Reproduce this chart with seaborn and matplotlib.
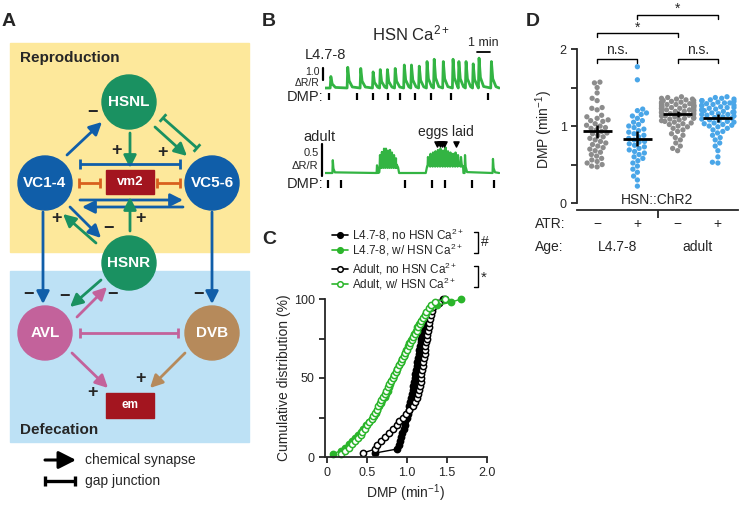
import numpy as np
import pandas as pd
import matplotlib
matplotlib.use("Agg")
import matplotlib.pyplot as plt
import seaborn as sns
from matplotlib.patches import Circle, Rectangle, FancyArrowPatch
from matplotlib.transforms import blended_transform_factory

# ---------------- data ----------------
# panel B: HSN Ca2+ traces, time in min, amplitude in dR/R
l4_spike_t = [0.45, 1.75, 2.75, 3.7, 4.25, 4.8, 5.4, 6.1, 6.65, 7.25, 7.85, 8.4, 9.1, 9.85, 10.3, 10.85, 11.4, 11.85, 12.8]
l4_spike_h = [1.0, 1.8, 1.7, 1.4, 1.6, 1.6, 1.7, 2.0, 2.0, 1.9, 2.3, 2.5, 2.3, 2.5, 2.3, 2.3, 2.1, 2.6, 2.3]
l4_base_t = [0.0, 13.4]
l4_base_v = [0.0, 0.0]
l4_dmp_t = [0.3, 2.45, 3.7, 4.85, 5.75, 6.9, 8.15, 9.7, 12.55]

ad_spike_t = [0.6, 4.0, 4.23, 4.38, 4.54, 4.69, 4.85, 5.0, 5.15, 5.31, 5.46,
              7.92, 8.12, 8.31, 8.5, 8.69, 8.88, 9.08, 9.27, 9.46, 9.65, 9.85, 10.04, 10.23, 10.46,
              10.77, 12.92]
ad_spike_h = [0.2, 0.12, 0.2, 0.25, 0.3, 0.3, 0.27, 0.28, 0.24, 0.2, 0.15,
              0.15, 0.2, 0.22, 0.24, 0.26, 0.28, 0.25, 0.3, 0.24, 0.22, 0.2, 0.22, 0.18, 0.15,
              0.28, 0.22]
ad_base_t = [0.0, 4.05, 4.15, 5.5, 5.7, 7.75, 7.85, 10.55, 10.65, 13.4]
ad_base_v = [0.0, 0.0, 0.08, 0.08, 0.0, 0.0, 0.1, 0.1, 0.0, 0.0]
ad_dmp_t = [0.25, 1.25, 6.15, 8.25, 9.25, 11.3, 13.0]
ad_egg_t = [8.62, 8.81, 9.0, 9.19, 10.08]

# panel C: DMP values (min^-1) per animal group
cdf_l4_no = [0.60, 0.87, 0.90, 0.91, 0.93, 0.94, 0.96, 0.97, 0.98, 1.00, 1.01, 1.02, 1.03, 1.04,
             1.05, 1.06, 1.07, 1.08, 1.09, 1.10, 1.10, 1.11, 1.12, 1.13, 1.14, 1.15, 1.15, 1.16,
             1.17, 1.18, 1.19, 1.20, 1.21, 1.22, 1.24, 1.26, 1.28, 1.31, 1.38, 1.45]
cdf_ad_no = [0.45, 0.60, 0.62, 0.67, 0.72, 0.78, 0.83, 0.87, 0.90, 0.95, 0.99, 1.02, 1.07, 1.10,
             1.12, 1.14, 1.15, 1.16, 1.17, 1.18, 1.18, 1.19, 1.20, 1.20, 1.21, 1.22, 1.22, 1.23,
             1.24, 1.25, 1.25, 1.26, 1.27, 1.28, 1.29, 1.30, 1.31, 1.33, 1.40, 1.47]
cdf_l4_ca = [0.08, 0.17, 0.22, 0.27, 0.31, 0.35, 0.39, 0.42, 0.45, 0.49, 0.53, 0.56, 0.59, 0.61,
             0.63, 0.65, 0.67, 0.69, 0.72, 0.74, 0.76, 0.77, 0.79, 0.80, 0.82, 0.84, 0.86, 0.88,
             0.90, 0.92, 0.94, 0.96, 0.98, 0.99, 1.01, 1.03, 1.05, 1.07, 1.09, 1.11, 1.13, 1.15,
             1.17, 1.20, 1.23, 1.25, 1.29, 1.38, 1.55, 1.68]
cdf_ad_ca = [0.18, 0.22, 0.27, 0.31, 0.35, 0.39, 0.42, 0.44, 0.47, 0.50, 0.53, 0.56, 0.58, 0.60,
             0.62, 0.64, 0.66, 0.68, 0.70, 0.72, 0.74, 0.76, 0.78, 0.80, 0.82, 0.84, 0.86, 0.88,
             0.90, 0.92, 0.94, 0.96, 0.98, 1.00, 1.02, 1.04, 1.06, 1.08, 1.10, 1.12, 1.14, 1.16,
             1.18, 1.20, 1.22, 1.24, 1.27, 1.30, 1.35, 1.47]
cdf_labels = ["L4.7-8, no HSN Ca$^{2+}$", "L4.7-8, w/ HSN Ca$^{2+}$",
              "Adult, no HSN Ca$^{2+}$", "Adult, w/ HSN Ca$^{2+}$"]

# panel D: DMP per animal, HSN::ChR2 with / without ATR
d_l4_minus = [1.57, 1.56, 1.50, 1.43, 1.36, 1.33, 1.24, 1.23, 1.21, 1.14, 1.12, 1.10, 1.08, 1.07,
              1.06, 1.03, 1.01, 1.00, 0.98, 0.97, 0.95, 0.93, 0.91, 0.90, 0.88, 0.86, 0.84, 0.82,
              0.80, 0.78, 0.76, 0.74, 0.72, 0.70, 0.68, 0.66, 0.63, 0.61, 0.58, 0.56, 0.54, 0.52,
              0.50, 0.48, 0.47]
d_l4_plus = [1.77, 1.60, 1.22, 1.20, 1.17, 1.15, 1.13, 1.10, 1.07, 1.05, 1.02, 1.00, 0.98, 0.96,
             0.94, 0.92, 0.90, 0.88, 0.86, 0.84, 0.82, 0.80, 0.79, 0.77, 0.75, 0.73, 0.71, 0.69,
             0.67, 0.65, 0.63, 0.60, 0.58, 0.55, 0.52, 0.48, 0.44, 0.40, 0.35, 0.30, 0.22]
d_ad_minus = [1.38, 1.37, 1.36, 1.35, 1.35, 1.34, 1.33, 1.33, 1.32, 1.31, 1.31, 1.30, 1.30, 1.29,
              1.29, 1.28, 1.28, 1.27, 1.27, 1.27, 1.26, 1.26, 1.25, 1.25, 1.25, 1.24, 1.24, 1.23,
              1.23, 1.23, 1.22, 1.22, 1.21, 1.21, 1.20, 1.20, 1.19, 1.19, 1.18, 1.18, 1.17, 1.17,
              1.16, 1.15, 1.15, 1.14, 1.13, 1.13, 1.12, 1.11, 1.10, 1.10, 1.09, 1.08, 1.07, 1.06,
              1.05, 1.04, 1.03, 1.02, 1.00, 0.99, 0.97, 0.95, 0.93, 0.90, 0.88, 0.85, 0.82, 0.78,
              0.74, 0.71, 0.68]
d_ad_plus = [1.38, 1.37, 1.36, 1.35, 1.34, 1.33, 1.33, 1.32, 1.31, 1.30, 1.30, 1.29, 1.28, 1.27,
             1.27, 1.26, 1.25, 1.24, 1.24, 1.23, 1.22, 1.21, 1.21, 1.20, 1.19, 1.18, 1.18, 1.17,
             1.16, 1.15, 1.15, 1.14, 1.13, 1.12, 1.11, 1.10, 1.09, 1.08, 1.07, 1.06, 1.05, 1.04,
             1.03, 1.02, 1.01, 1.00, 0.99, 0.97, 0.95, 0.93, 0.91, 0.88, 0.85, 0.82, 0.78, 0.74,
             0.68, 0.60, 0.53, 0.52]
d_atr = ["\u2212", "+", "\u2212", "+"]
d_age = ["L4.7-8", "adult"]

# ---------------- style ----------------
sns.set_style("ticks")
plt.rcParams["font.family"] = ["Liberation Sans", "DejaVu Sans"]
plt.rcParams["mathtext.fontset"] = "custom"
plt.rcParams["mathtext.rm"] = "Liberation Sans"
plt.rcParams["mathtext.it"] = "Liberation Sans"
plt.rcParams["mathtext.bf"] = "Liberation Sans:bold"

GREEN_N = "#1a9161"
BLUE_N = "#105ea9"
PINK = "#c3629b"
BROWN = "#b68a5b"
RED = "#a3151f"
ORANGE = "#d8601e"
TRACE = "#33b443"
CGREEN = "#2bb52b"
GREY = "#8c8c8c"
LBLUE = "#4aa6e8"

W, H = 740, 507
fig = plt.figure(figsize=(W / 100, H / 100), dpi=100)


def box(l, t, r, b):
    return [l / W, 1 - b / H, (r - l) / W, (b - t) / H]


ov = fig.add_axes([0, 0, 1, 1])
ov.set_xlim(0, W)
ov.set_ylim(H, 0)
ov.axis("off")

for lab, x, y in [("A", 9, 22), ("B", 269, 22), ("C", 269, 240), ("D", 533, 22)]:
    ov.text(x, y, lab, fontsize=14, fontweight="bold", ha="center", va="center")

# ---------------- panel A: circuit diagram ----------------
ov.add_patch(Rectangle((10, 43), 239, 209, color="#fde89b", zorder=0))
ov.add_patch(Rectangle((10, 271), 239, 171, color="#bde1f5", zorder=0))
ov.text(20, 58, "Reproduction", fontsize=11, fontweight="bold", va="center")
ov.text(20, 430, "Defecation", fontsize=11, fontweight="bold", va="center")


def arrow(p0, p1, c, lw=2.0, ms=10):
    ov.add_patch(FancyArrowPatch(p0, p1, arrowstyle="-|>,head_length=0.75,head_width=0.38",
                                 mutation_scale=ms, lw=lw, color=c, shrinkA=0, shrinkB=0, zorder=2))


def gap(p0, p1, c, half=5, lw=2.0):
    p0, p1 = np.array(p0, float), np.array(p1, float)
    d = (p1 - p0) / np.linalg.norm(p1 - p0)
    n = np.array([-d[1], d[0]])
    ov.plot([p0[0], p1[0]], [p0[1], p1[1]], color=c, lw=lw, solid_capstyle="butt", zorder=2)
    for p in (p0, p1):
        ov.plot([p[0] - half * n[0], p[0] + half * n[0]], [p[1] - half * n[1], p[1] + half * n[1]],
                color=c, lw=lw, solid_capstyle="butt", zorder=2)


for p0, p1, c in [((67, 155), (102, 122), BLUE_N), ((130, 133), (130, 168), GREEN_N),
                  ((155, 127), (187, 156), GREEN_N), ((80, 200), (183, 200), BLUE_N),
                  ((183, 207), (82, 207), BLUE_N), ((130, 231), (130, 197), GREEN_N),
                  ((70, 207), (101, 238), BLUE_N), ((96, 243), (63, 214), GREEN_N),
                  ((43, 212), (43, 304), BLUE_N), ((212, 212), (212, 304), BLUE_N),
                  ((101, 280), (70, 307), GREEN_N), ((77, 317), (107, 287), PINK),
                  ((72, 353), (108, 388), PINK), ((185, 353), (150, 388), BROWN)]:
    arrow(p0, p1, c)

for p0, p1, c in [((80, 164), (180, 164), BLUE_N), ((79, 183), (100, 183), ORANGE),
                  ((157, 183), (180, 183), ORANGE), ((163, 118), (197, 148), GREEN_N),
                  ((80, 333), (178, 333), PINK)]:
    gap(p0, p1, c)

for name, x, y, c in [("HSNL", 129, 102, GREEN_N), ("VC1-4", 45, 183, BLUE_N),
                      ("VC5-6", 212, 183, BLUE_N), ("HSNR", 129, 263, GREEN_N),
                      ("AVL", 45, 333, PINK), ("DVB", 212, 333, BROWN)]:
    ov.add_patch(Circle((x, y), 27, color=c, zorder=3))
    ov.text(x, y, name, color="white", fontsize=11, fontweight="bold", ha="center", va="center", zorder=4)

ov.add_patch(Rectangle((106, 170), 48, 24, color=RED, zorder=3))
ov.text(130, 182, "vm2", color="white", fontsize=9.5, fontweight="bold", ha="center", va="center", zorder=4)
ov.add_patch(Rectangle((106, 393), 48, 25, color=RED, zorder=3))
ov.text(130, 405.5, "em", color="white", fontsize=8.5, fontweight="bold", ha="center", va="center", zorder=4)

for s, x, y in [("\u2212", 93, 113), ("+", 117, 151), ("+", 163, 153), ("+", 57, 219),
                ("\u2212", 108, 228), ("+", 140, 218), ("\u2212", 28, 295), ("\u2212", 64, 296),
                ("\u2212", 113, 295), ("\u2212", 198, 295), ("+", 93, 392), ("+", 140, 378)]:
    ov.text(x, y, s, fontsize=13, fontweight="bold", ha="center", va="center")

arrow((45, 460), (76, 460), "black", lw=2.2, ms=14)
gap((45, 481), (75, 481), "black", half=5, lw=2.4)
ov.text(85, 460, "chemical synapse", fontsize=10, va="center")
ov.text(85, 481, "gap junction", fontsize=10, va="center")

# ---------------- panel B: Ca2+ traces ----------------


def build_trace(spk_t, spk_h, base_t, base_v, rise, decay):
    t = list(base_t)
    v = list(base_v)
    for s, h in zip(spk_t, spk_h):
        b = np.interp(s, base_t, base_v)
        t += [s - rise, s, s + decay * 0.3, s + decay]
        v += [b, b + h, b + 0.35 * h, b + 0.05 * h]
    order = np.argsort(t)
    return np.array(t)[order], np.array(v)[order]


tmax = 175 / 13
u = 11.5  # px per dR/R unit, L4 trace
axL = fig.add_axes(box(325, 55, 500, 93))
axL.set_xlim(0, tmax)
axL.set_ylim(-5 / u, 33 / u)
axL.axis("off")
tL, vL = build_trace(l4_spike_t, l4_spike_h, l4_base_t, l4_base_v, 0.05, 0.35)
sns.lineplot(x=tL, y=vL, estimator=None, sort=False, color=TRACE, lw=2.0, ax=axL)
axL.vlines(l4_dmp_t, -5 / u, -12 / u, color="black", lw=1.6, clip_on=False)
axL.plot([-0.15, -0.15], [0.7, 1.7], color="black", lw=1.6, clip_on=False)
axL.text(-0.4, 1.35, "1.0", fontsize=7.5, ha="right", va="center")
axL.text(-0.4, 0.45, "\u0394R/R", fontsize=7.5, ha="right", va="center")
axL.plot([11.7, 12.7], [36 / u, 36 / u], color="black", lw=1.3, clip_on=False)
axL.text(12.2, 45 / u, "1 min", fontsize=9, ha="center", va="center")

axA = fig.add_axes(box(325, 143, 500, 180))
axA.set_xlim(0, tmax)
axA.set_ylim(-7 / 64, 30 / 64)
axA.axis("off")
tA, vA = build_trace(ad_spike_t, ad_spike_h, ad_base_t, ad_base_v, 0.03, 0.16)
sns.lineplot(x=tA, y=vA, estimator=None, sort=False, color=TRACE, lw=1.6, ax=axA)
axA.vlines(ad_dmp_t, -7 / 64, -15 / 64, color="black", lw=1.6, clip_on=False)
axA.plot([-0.23, -0.23], [-0.05, 0.45], color="black", lw=1.6, clip_on=False)
axA.text(-0.5, 0.31, "0.5", fontsize=8, ha="right", va="center")
axA.text(-0.5, 0.11, "\u0394R/R", fontsize=8, ha="right", va="center")
axA.scatter(ad_egg_t, [0.45] * len(ad_egg_t), marker="v", s=14, color="black", clip_on=False, zorder=5)
axA.text(9.3, 0.64, "eggs laid", fontsize=10, ha="center", va="center")

ov.text(411, 33, "HSN Ca$^{2+}$", fontsize=12, ha="center", va="center")
ov.text(305, 55, "L4.7-8", fontsize=10.5, va="center")
ov.text(303, 137, "adult", fontsize=10.5, va="center")
ov.text(323, 97, "DMP:", fontsize=10.5, ha="right", va="center")
ov.text(323, 184, "DMP:", fontsize=10.5, ha="right", va="center")

# ---------------- panel C: cumulative distributions ----------------
axC = fig.add_axes(box(325, 299, 487, 457))
series = [(cdf_l4_no, "black", "black"), (cdf_ad_no, "black", "white"),
          (cdf_l4_ca, CGREEN, CGREEN), (cdf_ad_ca, CGREEN, "white")]
for vals, c, fc in series:
    x = np.sort(vals)
    y = np.arange(1, len(x) + 1) / len(x) * 100
    sns.lineplot(x=x, y=y, estimator=None, sort=False, color=c, lw=1.0, marker="o", ms=4.5,
                 mfc=fc, mec=c, mew=1.1, ax=axC, clip_on=False)
axC.set_xlim(-0.025, 2.0)
axC.set_ylim(0, 100)
axC.set_xticks([0, 0.5, 1.0, 1.5, 2.0])
axC.set_xticklabels(["0", "0.5", "1.0", "1.5", "2.0"])
axC.set_yticks([0, 50, 100])
axC.set_yticks([25, 75], minor=True)
axC.tick_params(labelsize=9, width=1.3, length=4)
axC.tick_params(which="minor", width=1.3, length=4)
sns.despine(ax=axC)
for s in ["left", "bottom"]:
    axC.spines[s].set_linewidth(1.3)
axC.set_xlabel("DMP (min$^{-1}$)", fontsize=10, labelpad=2)
axC.set_ylabel("Cumulative distribution (%)", fontsize=10, labelpad=2)

legend_order = [series[0], series[2], series[1], series[3]]
for y, (vals, c, fc), lab in zip([235, 250, 269, 284], legend_order, cdf_labels):
    ov.plot([332, 348], [y, y], color=c, lw=1.2)
    ov.plot(340, y, marker="o", ms=4, mfc=fc, mec=c, mew=1.1)
    ov.text(352, y, lab, fontsize=8.5, va="center")
ov.plot([474, 478, 478, 474], [232, 232, 253, 253], color="black", lw=1)
ov.text(481, 242, "#", fontsize=10, va="center")
ov.plot([474, 478, 478, 474], [266, 266, 287, 287], color="black", lw=1)
ov.text(481, 278, "*", fontsize=11, va="center")

# ---------------- panel D: ChR2 swarm ----------------
groups = ["L4 \u2212", "L4 +", "adult \u2212", "adult +"]
d_vals = [d_l4_minus, d_l4_plus, d_ad_minus, d_ad_plus]
dfD = pd.DataFrame({
    "group": np.concatenate([[g] * len(v) for g, v in zip(groups, d_vals)]),
    "atr": np.concatenate([[a] * len(v) for a, v in zip(d_atr, d_vals)]),
    "dmp": np.concatenate(d_vals),
})
axD = fig.add_axes(box(577, 49, 738, 210))
sns.swarmplot(data=dfD, x="group", y="dmp", hue="atr", order=groups,
              palette={"\u2212": GREY, "+": LBLUE}, size=3.8, legend=False, ax=axD)
for i, v in enumerate(d_vals):
    m = np.mean(v)
    ci = 1.96 * np.std(v, ddof=1) / np.sqrt(len(v))
    axD.hlines(m, i - 0.36, i + 0.36, color="black", lw=2.0, zorder=5)
    axD.vlines(i, m - ci, m + ci, color="black", lw=1.8, zorder=5)
axD.set_xlim(-0.5, 3.5)
axD.set_ylim(-0.09, 2.0)
axD.set_yticks([0, 1, 2])
axD.set_yticks([0.5, 1.5], minor=True)
axD.set_xticks([1.5])
axD.set_xticklabels([])
axD.tick_params(labelsize=9, width=1.3, length=4)
axD.tick_params(axis="x", length=6)
axD.tick_params(which="minor", width=1.3, length=4)
sns.despine(ax=axD)
axD.spines["left"].set_bounds(0, 2)
for s in ["left", "bottom"]:
    axD.spines[s].set_linewidth(1.3)
axD.set_xlabel("")
axD.set_ylabel("DMP (min$^{-1}$)", fontsize=10, labelpad=3)

bt = blended_transform_factory(axD.transData, axD.transAxes)
for i, a in enumerate(d_atr):
    axD.text(i, -0.087, a, transform=bt, fontsize=10, ha="center", va="center")
axD.text(0.5, -0.23, d_age[0], transform=bt, fontsize=10, ha="center", va="center")
axD.text(2.5, -0.23, d_age[1], transform=bt, fontsize=10, ha="center", va="center")
axD.text(1.5, 0.062, "HSN::ChR2", transform=bt, fontsize=10, ha="center", va="center")
ov.text(535, 224, "ATR:", fontsize=10, va="center")
ov.text(535, 247, "Age:", fontsize=10, va="center")

for x0, x1, ytop, ydrop, ytxt, txt in [(0, 1, 1.87, 1.82, 1.99, "n.s."), (2, 3, 1.87, 1.82, 1.99, "n.s."),
                                        (0, 2, 2.21, 2.16, 2.28, "*"), (1, 3, 2.44, 2.39, 2.52, "*")]:
    axD.plot([x0, x0, x1, x1], [ydrop, ytop, ytop, ydrop], color="black", lw=1, clip_on=False)
    axD.text((x0 + x1) / 2, ytxt, txt, fontsize=10, ha="center", va="center", clip_on=False)

fig.savefig("out.png", dpi=100)
